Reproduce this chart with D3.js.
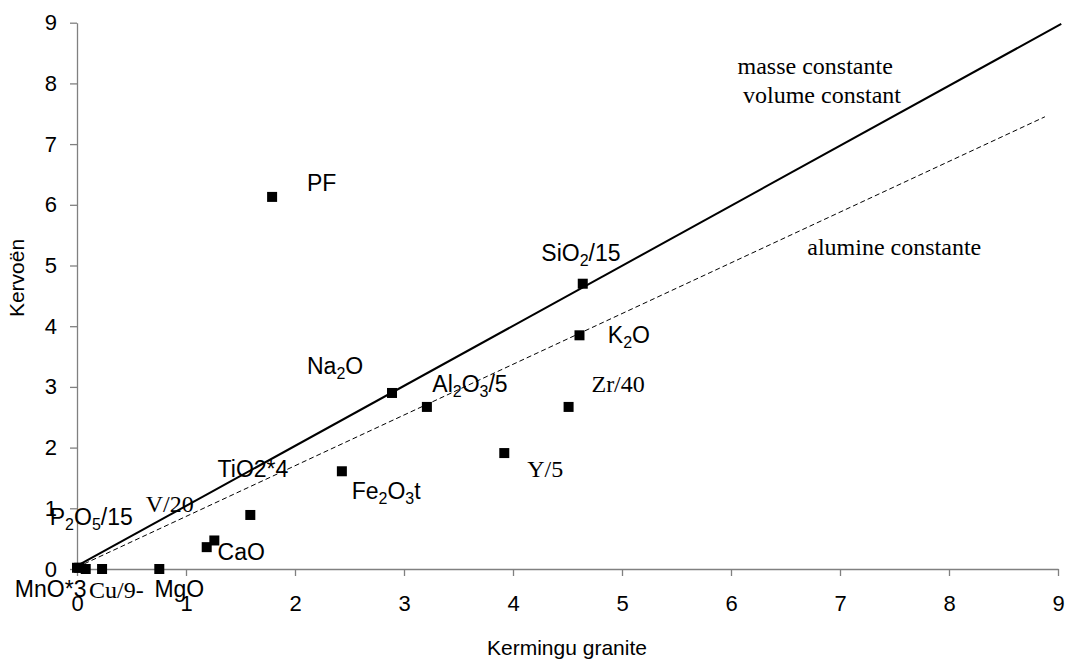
<!DOCTYPE html>
<html>
<head>
<meta charset="utf-8">
<script src="https://cdn.jsdelivr.net/npm/d3@7"></script>
<style>
body{margin:0;background:#fff;}
</style>
</head>
<body>
<div id="container"></div>
<script>
let w = 1070;
let h = 659;

// granite (x) vs Kervoen (y), normalised oxides / traces
const names   = ["PF","SiO2/15","K2O","Na2O","Al2O3/5","Zr/40","Y/5","Fe2O3t","TiO2*4","CaO","CaO","MgO","Cu/9","MnO*3","V/20","P2O5/15"];
const granite = [1.79, 4.64, 4.61, 2.89, 3.21, 4.51, 3.92, 2.43, 1.59, 1.26, 1.19, 0.755, 0.23, 0.08, 0.0, 0.02];
const kervoen = [6.13, 4.70, 3.85, 2.90, 2.67, 2.67, 1.91, 1.61, 0.89, 0.47, 0.36, 0.0, 0.0, 0.0, 0.02, 0.02];

const xTicks = [0,1,2,3,4,5,6,7,8,9];
const yTicks = [0,1,2,3,4,5,6,7,8,9];

// reference lines
const masseLine   = [[0, 0.05], [9.03, 8.98]];
const alumineLine = [[0, 0.03], [8.88, 7.45]];

// annotations: text ("_" toggles subscript), x, y in data units, font
const labels = [
  ["masse constante", 6.06, 8.16, "serif"],
  ["volume constant", 6.11, 7.68, "serif"],
  ["alumine constante", 6.70, 5.18, "serif"],
  ["PF", 2.11, 6.23, "sans"],
  ["SiO_2_/15", 4.26, 5.07, "sans"],
  ["K_2_O", 4.87, 3.72, "sans"],
  ["Na_2_O", 2.11, 3.21, "sans"],
  ["Al_2_O_3_/5", 3.26, 2.92, "sans"],
  ["Zr/40", 4.72, 2.92, "serif"],
  ["Y/5", 4.13, 1.52, "serif"],
  ["Fe_2_O_3_t", 2.52, 1.15, "sans"],
  ["TiO2*4", 1.29, 1.52, "sans"],
  ["V/20", 0.63, 0.94, "serif"],
  ["P_2_O_5_/15", -0.25, 0.72, "sans"],
  ["CaO", 1.29, 0.15, "sans"],
  ["MnO*3", -0.57, -0.46, "sans"],
  ["Cu/9-", 0.11, -0.48, "serif"],
  ["MgO", 0.71, -0.46, "sans"]
];

let svg = d3.select("#container").append("svg")
    .attr("width", w)
    .attr("height", h)
    .style("display","block");

let x = d3.scaleLinear().domain([0, 9]).range([77, 1058]);
let y = d3.scaleLinear().domain([0, 9]).range([569, 22.7]);

const sans = "Liberation Sans, Arial, sans-serif";
const serif = "Liberation Serif, Times New Roman, serif";

// axes
let xAxis = svg.append("g")
    .attr("transform", "translate(0," + y(0) + ")")
    .call(d3.axisBottom(x).tickValues(xTicks).tickSize(7).tickSizeOuter(0).tickPadding(19));
let yAxis = svg.append("g")
    .attr("transform", "translate(" + x(0) + ",0)")
    .call(d3.axisLeft(y).tickValues(yTicks).tickSize(7).tickSizeOuter(0).tickPadding(13));

[xAxis, yAxis].forEach(function(a){
  a.select(".domain").attr("stroke", "#808080").attr("stroke-width", 1.3);
  a.selectAll(".tick line").attr("stroke", "#808080").attr("stroke-width", 1.3);
  a.selectAll(".tick text")
    .attr("fill", "#000")
    .attr("font-family", sans)
    .attr("font-size", 22);
});

// axis titles
svg.append("text")
    .text("Kermingu granite")
    .attr("x", 567)
    .attr("y", 655)
    .attr("text-anchor", "middle")
    .attr("font-family", sans)
    .attr("font-size", 21);
svg.append("text")
    .text("Kervoën")
    .attr("transform", "translate(24,278) rotate(-90)")
    .attr("text-anchor", "middle")
    .attr("font-family", sans)
    .attr("font-size", 21);

// reference lines
let line = d3.line().x(d => x(d[0])).y(d => y(d[1]));
svg.append("path")
    .attr("d", line(masseLine))
    .attr("fill", "none")
    .attr("stroke", "#000")
    .attr("stroke-width", 2);
svg.append("path")
    .attr("d", line(alumineLine))
    .attr("fill", "none")
    .attr("stroke", "#000")
    .attr("stroke-width", 1)
    .attr("stroke-dasharray", "5,3");

// points
svg.append("g").selectAll("rect")
    .data(granite.map((g, i) => ({name: names[i], x: g, y: kervoen[i]})))
    .join("rect")
    .attr("x", d => x(d.x) - 5)
    .attr("y", d => y(d.y) - 5)
    .attr("width", 10)
    .attr("height", 10)
    .attr("fill", "#000");

// labels
labels.forEach(function(l){
  let t = svg.append("text")
    .attr("x", x(l[1]))
    .attr("y", y(l[2]))
    .attr("font-family", l[3] == "serif" ? serif : sans)
    .attr("font-size", l[3] == "serif" ? 24 : 23);
  l[0].split("_").forEach(function(part, i){
    if (!part) return;
    let s = t.append("tspan").text(part);
    if (i % 2 == 1) {
      s.attr("font-size", 16).attr("dy", 5);
    } else if (i > 0) {
      s.attr("dy", -5);
    }
  });
});
</script>
</body>
</html>
